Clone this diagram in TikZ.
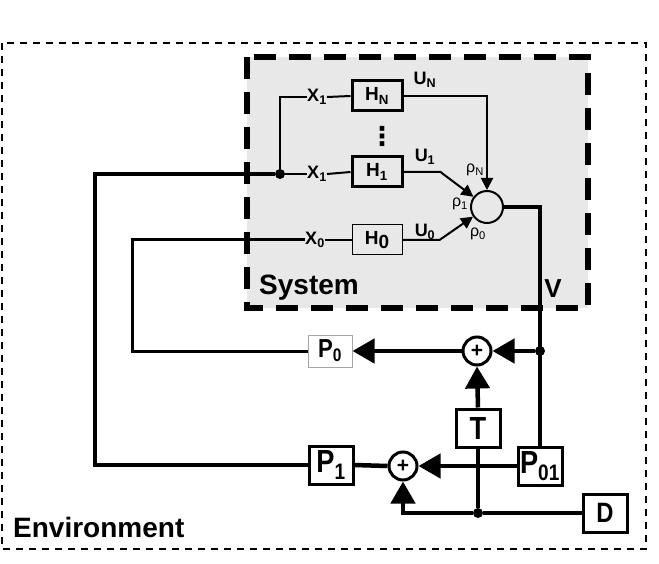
\documentclass[tikz,border=0pt]{standalone}
\usepackage{fontspec}
\setmainfont{Liberation Sans}
\newfontfamily\narrowfont{Liberation Sans}[FakeStretch=0.85]
\newfontfamily\symfont{DejaVu Sans}
\usetikzlibrary{arrows.meta, positioning, calc}

\tikzset{
  lbl/.style={inner sep=0pt, font=\fontsize{18}{18}\selectfont\bfseries},
  rholbl/.style={inner sep=0pt, font=\fontsize{16}{16}\selectfont},
  hbox/.style={draw, line width=3pt, minimum width=50pt, minimum height=30pt, inner sep=0pt,
    font=\fontsize{19}{19}\selectfont\bfseries},
  pbox/.style={draw, fill=white, line width=3pt, minimum width=44pt, minimum height=38pt, inner sep=0pt,
    font=\narrowfont\bfseries\fontsize{32}{32}\selectfont},
  sumnode/.style={circle, draw, fill=white, line width=3pt, minimum size=28pt, inner sep=0pt,
    font=\fontsize{21}{21}\selectfont\bfseries},
  junct/.style={circle, fill, minimum size=10pt, inner sep=0pt},
  sigline/.style={line width=2pt},
  busline/.style={line width=4.5pt},
  bigarrow/.style={-{Triangle[length=22pt,width=24pt]}},
  smallarrow/.style={-{Triangle[length=12pt,width=12pt]}}
}

\begin{document}
\begin{tikzpicture}[x=1pt,y=-1pt]
\useasboundingbox (0,0) rectangle (659,564);

% -------- Environment and system frames --------
\draw[line width=2pt, dash pattern=on 7pt off 6pt] (2,43) rectangle (646,549);
\draw[fill=black!9, line width=6pt, dash pattern=on 22pt off 13pt] (247,57) rectangle (588,308);

\node[anchor=west, inner sep=0pt, font=\fontsize{28}{28}\selectfont\bfseries] (syslabel) at (259,288) {System};
\node[anchor=west, inner sep=0pt, font=\fontsize{28}{28}\selectfont\bfseries] (envlabel) at (13,527) {Environment};
\node[inner sep=0pt, font=\fontsize{26}{26}\selectfont\bfseries] (vlabel) at (553,289) {V};

% -------- Filter bank --------
\node[hbox] (hN) at (377,96) {H\textsubscript{N}};
\node[hbox] (h1) at (377,172) {H\textsubscript{1}};
\node[hbox, line width=1pt] (h0) at (377,240) {H\raisebox{-4pt}{0}};
\node[inner sep=0pt, font=\symfont\bfseries\fontsize{26}{26}\selectfont] (vdots) at (382,136) {⋮};

\node[lbl] (xN) at (317,97) {X\textsubscript{1}};
\node[lbl] (x1) at (317,174) {X\textsubscript{1}};
\node[lbl] (x0) at (315,240) {X\textsubscript{0}};
\node[junct] (split) at (280,174) {};

\node[lbl] (uN) at (425,80) {U\textsubscript{N}};
\node[lbl] (u1) at (425,157) {U\textsubscript{1}};
\node[lbl] (u0) at (425,232) {U\textsubscript{0}};

\node[circle, draw, line width=2pt, minimum size=32pt, inner sep=0pt] (mix) at (487,207) {};
\node[rholbl] (rN) at (475,170) {ρ\textsubscript{N}};
\node[rholbl] (r1) at (460,204) {ρ\textsubscript{1}};
\node[rholbl] (r0) at (478,234) {ρ\textsubscript{0}};

\draw[sigline] (xN.west) -| (split);
\draw[sigline] (split) -- (x1.west);
\draw[sigline] (xN.east) -- (hN.west);
\draw[sigline] (x1.east) -- (h1.west);
\draw[sigline] (x0.east) -- (h0.west);
\draw[sigline, smallarrow] (hN.east) -| (mix.north);
\draw[sigline, smallarrow] (h1.east) -- ++(37,0) -- (mix);
\draw[sigline, smallarrow] (h0.east) -- ++(37,0) -- (mix);

% -------- Feedback loop --------
\node[pbox, line width=1pt, draw=black!35, minimum width=44pt, minimum height=32pt,
  font=\narrowfont\bfseries\fontsize{26}{26}\selectfont] (p0) at (330,351) {P\textsubscript{0}};
\node[pbox] (p1) at (331,465) {P\textsubscript{1}};
\node[pbox] (p01) at (540,466) {P\textsubscript{01}};
\node[pbox] (t) at (478,428) {T};
\node[pbox, font=\narrowfont\bfseries\fontsize{28}{28}\selectfont] (d) at (605,513) {D};
\node[sumnode] (sumtop) at (477,351) {+};
\node[sumnode] (sumbot) at (403,466) {+};
\node[junct] (tap) at (540,351) {};
\node[junct] (dtap) at (478,513) {};
\coordinate (fb0) at (132,240);
\coordinate (fb1) at (95,174);

\draw[busline] (mix.east) -| (p01.north);
\draw[busline, bigarrow] (tap) -- (sumtop.east);
\draw[busline, bigarrow] (sumtop.west) -- (p0.east);
\draw[line width=3pt] (p0.west) -| (fb0) -- (x0.west);
\draw[busline, bigarrow] (t.north) -- (sumtop.south);
\draw[busline] (d.west) -- (dtap) -- (t.south);
\draw[busline, bigarrow] (dtap) -| (sumbot.south);
\draw[busline, bigarrow] (p01.west) -- (sumbot.east);
\draw[busline] (sumbot.west) -- (p1.east);
\draw[line width=3.5pt] (p1.west) -| (fb1) -- (split);

\end{tikzpicture}
\end{document}
